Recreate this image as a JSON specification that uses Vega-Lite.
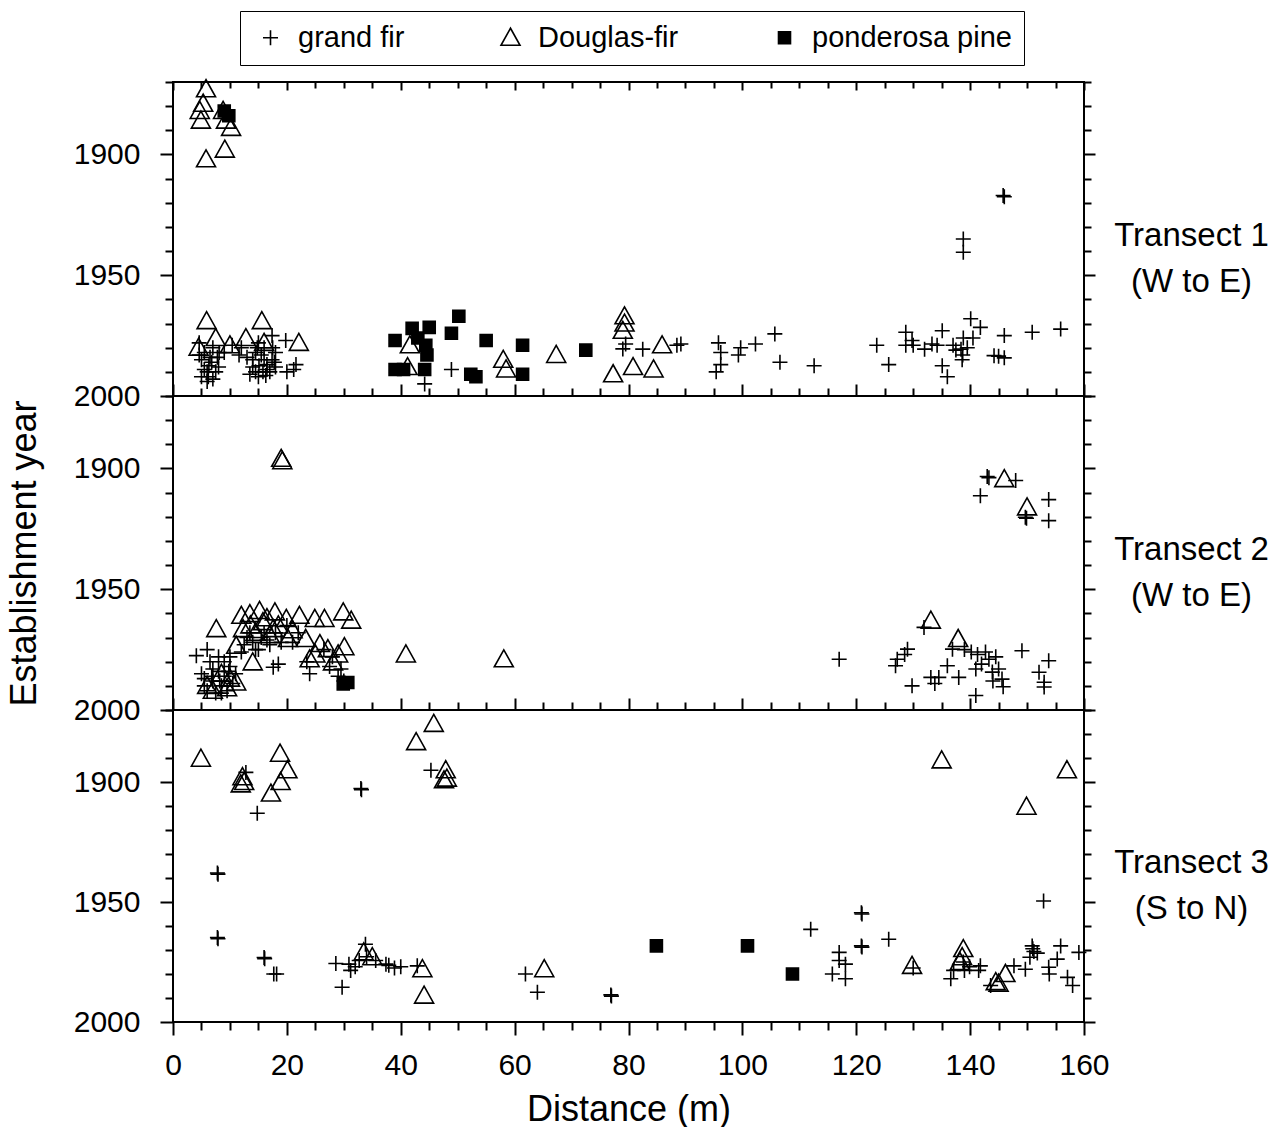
{
  "$schema": "https://vega.github.io/schema/vega-lite/v6.json",
  "padding": {"left": 5, "top": 10, "right": 5, "bottom": 5},
  "background": "white",
  "bounds": "flush",
  "spacing": 0,
  "config": {
    "view": {"stroke": "black", "strokeWidth": 2},
    "axis": {"domain": false, "grid": false, "tickColor": "black", "tickWidth": 2, "labelFont": "Liberation Sans", "labelFontSize": 30, "labelColor": "black", "titleFont": "Liberation Sans", "titleFontSize": 36, "titleFontWeight": "normal", "titleColor": "black", "labelOverlap": false, "labelFlush": false, "labelBound": false},
    "legend": {"labelFont": "Liberation Sans", "labelFontSize": 29, "labelColor": "black", "labelLimit": 400, "symbolStrokeColor": "black", "symbolStrokeWidth": 1.6, "symbolSize": 400}
  },
  "data": {"values": [
    {"t":1,"d":5.8,"y":1873,"s":"Douglas-fir"},{"t":1,"d":5.3,"y":1879,"s":"Douglas-fir"},{"t":1,"d":4.7,"y":1882,"s":"Douglas-fir"},{"t":1,"d":4.9,"y":1886,"s":"Douglas-fir"},{"t":1,"d":8.8,"y":1882,"s":"Douglas-fir"},{"t":1,"d":9.3,"y":1886,"s":"Douglas-fir"},{"t":1,"d":10.2,"y":1889,"s":"Douglas-fir"},{"t":1,"d":5.8,"y":1902,"s":"Douglas-fir"},{"t":1,"d":9.1,"y":1898,"s":"Douglas-fir"},
    {"t":1,"d":5.9,"y":1969,"s":"Douglas-fir"},{"t":1,"d":15.6,"y":1969,"s":"Douglas-fir"},{"t":1,"d":22.1,"y":1978,"s":"Douglas-fir"},{"t":1,"d":7.5,"y":1976,"s":"Douglas-fir"},{"t":1,"d":12.8,"y":1976,"s":"Douglas-fir"},{"t":1,"d":4.5,"y":1980,"s":"Douglas-fir"},{"t":1,"d":10,"y":1979,"s":"Douglas-fir"},{"t":1,"d":16,"y":1978,"s":"Douglas-fir"},{"t":1,"d":41.6,"y":1979,"s":"Douglas-fir"},{"t":1,"d":41.2,"y":1988,"s":"Douglas-fir"},{"t":1,"d":58.0,"y":1985,"s":"Douglas-fir"},{"t":1,"d":58.5,"y":1989,"s":"Douglas-fir"},{"t":1,"d":67.3,"y":1983,"s":"Douglas-fir"},{"t":1,"d":79.3,"y":1967,"s":"Douglas-fir"},{"t":1,"d":79.3,"y":1970,"s":"Douglas-fir"},{"t":1,"d":79.0,"y":1973,"s":"Douglas-fir"},{"t":1,"d":77.3,"y":1991,"s":"Douglas-fir"},{"t":1,"d":80.8,"y":1988,"s":"Douglas-fir"},{"t":1,"d":84.4,"y":1989,"s":"Douglas-fir"},{"t":1,"d":85.9,"y":1979,"s":"Douglas-fir"},
    {"t":1,"d":9,"y":1882,"s":"ponderosa pine"},{"t":1,"d":9.8,"y":1884,"s":"ponderosa pine"},{"t":1,"d":39.0,"y":1977,"s":"ponderosa pine"},{"t":1,"d":42.0,"y":1972,"s":"ponderosa pine"},{"t":1,"d":45.0,"y":1971.6,"s":"ponderosa pine"},{"t":1,"d":50.2,"y":1967,"s":"ponderosa pine"},{"t":1,"d":48.9,"y":1974,"s":"ponderosa pine"},{"t":1,"d":55.0,"y":1977,"s":"ponderosa pine"},{"t":1,"d":61.4,"y":1979,"s":"ponderosa pine"},{"t":1,"d":61.4,"y":1991,"s":"ponderosa pine"},{"t":1,"d":39.0,"y":1989,"s":"ponderosa pine"},{"t":1,"d":44.4,"y":1979,"s":"ponderosa pine"},{"t":1,"d":44.6,"y":1983,"s":"ponderosa pine"},{"t":1,"d":44.2,"y":1989,"s":"ponderosa pine"},{"t":1,"d":52.3,"y":1991,"s":"ponderosa pine"},{"t":1,"d":53.2,"y":1992,"s":"ponderosa pine"},{"t":1,"d":72.5,"y":1981,"s":"ponderosa pine"},{"t":1,"d":43,"y":1976,"s":"ponderosa pine"},{"t":1,"d":40.5,"y":1989,"s":"ponderosa pine"},
    {"t":1,"d":4.6,"y":1978,"s":"grand fir"},{"t":1,"d":4.6,"y":1983,"s":"grand fir"},{"t":1,"d":6.3,"y":1987.5,"s":"grand fir"},{"t":1,"d":6.0,"y":1994,"s":"grand fir"},{"t":1,"d":8.1,"y":1982,"s":"grand fir"},{"t":1,"d":10.4,"y":1979,"s":"grand fir"},{"t":1,"d":11.6,"y":1983,"s":"grand fir"},{"t":1,"d":14.5,"y":1982,"s":"grand fir"},{"t":1,"d":15.1,"y":1987.5,"s":"grand fir"},{"t":1,"d":16.3,"y":1991.5,"s":"grand fir"},{"t":1,"d":17.4,"y":1975,"s":"grand fir"},{"t":1,"d":17.4,"y":1985,"s":"grand fir"},{"t":1,"d":19.8,"y":1977,"s":"grand fir"},{"t":1,"d":21.2,"y":1989,"s":"grand fir"},{"t":1,"d":21.6,"y":1987,"s":"grand fir"},{"t":1,"d":5,"y":1985,"s":"grand fir"},{"t":1,"d":6,"y":1990,"s":"grand fir"},{"t":1,"d":7,"y":1980,"s":"grand fir"},{"t":1,"d":8,"y":1988,"s":"grand fir"},{"t":1,"d":9,"y":1982,"s":"grand fir"},{"t":1,"d":12,"y":1980,"s":"grand fir"},{"t":1,"d":13,"y":1984,"s":"grand fir"},{"t":1,"d":14,"y":1988,"s":"grand fir"},{"t":1,"d":15,"y":1978,"s":"grand fir"},{"t":1,"d":16,"y":1980,"s":"grand fir"},{"t":1,"d":16,"y":1985,"s":"grand fir"},{"t":1,"d":17,"y":1990,"s":"grand fir"},{"t":1,"d":18,"y":1982,"s":"grand fir"},{"t":1,"d":18,"y":1988,"s":"grand fir"},{"t":1,"d":15,"y":1992,"s":"grand fir"},{"t":1,"d":20,"y":1990,"s":"grand fir"},{"t":1,"d":7,"y":1993,"s":"grand fir"},{"t":1,"d":5.5,"y":1982,"s":"grand fir"},{"t":1,"d":14.5,"y":1990,"s":"grand fir"},{"t":1,"d":16.5,"y":1989,"s":"grand fir"},
    {"t":1,"d":5.5,"y":1989,"s":"grand fir"},{"t":1,"d":6.5,"y":1984,"s":"grand fir"},{"t":1,"d":7.5,"y":1990,"s":"grand fir"},{"t":1,"d":5,"y":1992,"s":"grand fir"},{"t":1,"d":14,"y":1985,"s":"grand fir"},{"t":1,"d":15.5,"y":1983,"s":"grand fir"},{"t":1,"d":16.5,"y":1987,"s":"grand fir"},{"t":1,"d":13.5,"y":1991,"s":"grand fir"},{"t":1,"d":17.5,"y":1980,"s":"grand fir"},
    {"t":1,"d":6.8,"y":1986,"s":"grand fir"},{"t":1,"d":7.8,"y":1984,"s":"grand fir"},{"t":1,"d":6.2,"y":1992,"s":"grand fir"},{"t":1,"d":15.8,"y":1990,"s":"grand fir"},{"t":1,"d":17.8,"y":1986,"s":"grand fir"},{"t":1,"d":14.8,"y":1980,"s":"grand fir"},
    {"t":1,"d":44.2,"y":1995,"s":"grand fir"},{"t":1,"d":48.9,"y":1989,"s":"grand fir"},{"t":1,"d":79.5,"y":1978.5,"s":"grand fir"},{"t":1,"d":79,"y":1980.5,"s":"grand fir"},{"t":1,"d":82.5,"y":1980.6,"s":"grand fir"},{"t":1,"d":88.5,"y":1979,"s":"grand fir"},{"t":1,"d":89.2,"y":1978.5,"s":"grand fir"},{"t":1,"d":95.8,"y":1978,"s":"grand fir"},{"t":1,"d":96.2,"y":1982,"s":"grand fir"},{"t":1,"d":95.4,"y":1990,"s":"grand fir"},{"t":1,"d":96.2,"y":1987,"s":"grand fir"},{"t":1,"d":99.7,"y":1980,"s":"grand fir"},{"t":1,"d":99.3,"y":1983,"s":"grand fir"},{"t":1,"d":102.3,"y":1978.5,"s":"grand fir"},{"t":1,"d":105.7,"y":1974.3,"s":"grand fir"},{"t":1,"d":106.6,"y":1986,"s":"grand fir"},{"t":1,"d":112.6,"y":1987.5,"s":"grand fir"},
    {"t":1,"d":123.6,"y":1979,"s":"grand fir"},{"t":1,"d":125.7,"y":1987,"s":"grand fir"},{"t":1,"d":128.7,"y":1973.6,"s":"grand fir"},{"t":1,"d":128.7,"y":1979,"s":"grand fir"},{"t":1,"d":130,"y":1979,"s":"grand fir"},{"t":1,"d":133.3,"y":1978.5,"s":"grand fir"},{"t":1,"d":135.1,"y":1973,"s":"grand fir"},{"t":1,"d":135.1,"y":1987.5,"s":"grand fir"},{"t":1,"d":136,"y":1992,"s":"grand fir"},{"t":1,"d":137,"y":1979,"s":"grand fir"},{"t":1,"d":137.5,"y":1981,"s":"grand fir"},{"t":1,"d":138.6,"y":1985,"s":"grand fir"},{"t":1,"d":138.8,"y":1976,"s":"grand fir"},{"t":1,"d":140.1,"y":1968,"s":"grand fir"},{"t":1,"d":141.8,"y":1971.6,"s":"grand fir"},{"t":1,"d":144.2,"y":1983.3,"s":"grand fir"},{"t":1,"d":146,"y":1975,"s":"grand fir"},{"t":1,"d":146,"y":1984.2,"s":"grand fir"},{"t":1,"d":150.9,"y":1973.6,"s":"grand fir"},{"t":1,"d":155.9,"y":1972.3,"s":"grand fir"},{"t":1,"d":145.8,"y":1917,"s":"grand fir"},{"t":1,"d":146,"y":1917.5,"s":"grand fir"},{"t":1,"d":138.8,"y":1935,"s":"grand fir"},{"t":1,"d":138.8,"y":1940.5,"s":"grand fir"},{"t":1,"d":138.4,"y":1980.6,"s":"grand fir"},{"t":1,"d":138.7,"y":1983,"s":"grand fir"},{"t":1,"d":134.2,"y":1979,"s":"grand fir"},{"t":1,"d":132,"y":1980.6,"s":"grand fir"},{"t":1,"d":129.8,"y":1977,"s":"grand fir"},{"t":1,"d":145,"y":1983.5,"s":"grand fir"},{"t":1,"d":140.5,"y":1976,"s":"grand fir"},{"t":1,"d":139.5,"y":1980,"s":"grand fir"},
    {"t":2,"d":19.0,"y":1896,"s":"Douglas-fir"},{"t":2,"d":19.2,"y":1897,"s":"Douglas-fir"},{"t":2,"d":7.6,"y":1966.5,"s":"Douglas-fir"},{"t":2,"d":12.0,"y":1961,"s":"Douglas-fir"},{"t":2,"d":13.5,"y":1960.3,"s":"Douglas-fir"},{"t":2,"d":15.2,"y":1959,"s":"Douglas-fir"},{"t":2,"d":17.9,"y":1959.6,"s":"Douglas-fir"},{"t":2,"d":19.9,"y":1962.3,"s":"Douglas-fir"},{"t":2,"d":22.2,"y":1961,"s":"Douglas-fir"},{"t":2,"d":24.9,"y":1962.3,"s":"Douglas-fir"},{"t":2,"d":26.6,"y":1962.3,"s":"Douglas-fir"},{"t":2,"d":29.9,"y":1959.6,"s":"Douglas-fir"},{"t":2,"d":31.3,"y":1963,"s":"Douglas-fir"},{"t":2,"d":12.3,"y":1966.5,"s":"Douglas-fir"},{"t":2,"d":13.6,"y":1965,"s":"Douglas-fir"},{"t":2,"d":15.8,"y":1963.6,"s":"Douglas-fir"},{"t":2,"d":17.6,"y":1966.5,"s":"Douglas-fir"},{"t":2,"d":20.2,"y":1970.6,"s":"Douglas-fir"},{"t":2,"d":23.3,"y":1970.6,"s":"Douglas-fir"},{"t":2,"d":25.8,"y":1972.7,"s":"Douglas-fir"},{"t":2,"d":27.2,"y":1974.8,"s":"Douglas-fir"},{"t":2,"d":30.1,"y":1974,"s":"Douglas-fir"},{"t":2,"d":28.1,"y":1980.3,"s":"Douglas-fir"},{"t":2,"d":11.1,"y":1973.4,"s":"Douglas-fir"},{"t":2,"d":14.0,"y":1980.3,"s":"Douglas-fir"},{"t":2,"d":24.0,"y":1979,"s":"Douglas-fir"},{"t":2,"d":11.1,"y":1988.6,"s":"Douglas-fir"},{"t":2,"d":8.5,"y":1985,"s":"Douglas-fir"},{"t":2,"d":16.5,"y":1962,"s":"Douglas-fir"},{"t":2,"d":18.5,"y":1965,"s":"Douglas-fir"},{"t":2,"d":40.9,"y":1977,"s":"Douglas-fir"},{"t":2,"d":58.1,"y":1979,"s":"Douglas-fir"},{"t":2,"d":146.0,"y":1904.4,"s":"Douglas-fir"},{"t":2,"d":150.0,"y":1916.1,"s":"Douglas-fir"},{"t":2,"d":133.1,"y":1963,"s":"Douglas-fir"},{"t":2,"d":137.9,"y":1970.6,"s":"Douglas-fir"},
    {"t":2,"d":6,"y":1990,"s":"Douglas-fir"},{"t":2,"d":9.5,"y":1991,"s":"Douglas-fir"},{"t":2,"d":14.5,"y":1968,"s":"Douglas-fir"},{"t":2,"d":21,"y":1967,"s":"Douglas-fir"},{"t":2,"d":25,"y":1977,"s":"Douglas-fir"},{"t":2,"d":29,"y":1977,"s":"Douglas-fir"},{"t":2,"d":7,"y":1992,"s":"Douglas-fir"},{"t":2,"d":10,"y":1987,"s":"Douglas-fir"},{"t":2,"d":17,"y":1969,"s":"Douglas-fir"},
    {"t":2,"d":29.9,"y":1989.2,"s":"ponderosa pine"},{"t":2,"d":30.7,"y":1988.6,"s":"ponderosa pine"},
    {"t":2,"d":4.1,"y":1977.5,"s":"grand fir"},{"t":2,"d":5,"y":1985,"s":"grand fir"},{"t":2,"d":5.5,"y":1990,"s":"grand fir"},{"t":2,"d":6,"y":1992,"s":"grand fir"},{"t":2,"d":6.5,"y":1980,"s":"grand fir"},{"t":2,"d":7,"y":1988,"s":"grand fir"},{"t":2,"d":7.5,"y":1993,"s":"grand fir"},{"t":2,"d":8,"y":1984,"s":"grand fir"},{"t":2,"d":8.5,"y":1990,"s":"grand fir"},{"t":2,"d":9,"y":1986,"s":"grand fir"},{"t":2,"d":9.5,"y":1992,"s":"grand fir"},{"t":2,"d":10,"y":1982,"s":"grand fir"},{"t":2,"d":10.5,"y":1989,"s":"grand fir"},{"t":2,"d":6,"y":1975,"s":"grand fir"},{"t":2,"d":8,"y":1978,"s":"grand fir"},{"t":2,"d":17.6,"y":1982.3,"s":"grand fir"},{"t":2,"d":18.5,"y":1981,"s":"grand fir"},{"t":2,"d":24.0,"y":1985,"s":"grand fir"},{"t":2,"d":23.5,"y":1980,"s":"grand fir"},{"t":2,"d":13,"y":1970,"s":"grand fir"},{"t":2,"d":15,"y":1975,"s":"grand fir"},{"t":2,"d":16,"y":1968,"s":"grand fir"},{"t":2,"d":14,"y":1972,"s":"grand fir"},{"t":2,"d":20,"y":1965,"s":"grand fir"},{"t":2,"d":21,"y":1972,"s":"grand fir"},{"t":2,"d":26.5,"y":1975,"s":"grand fir"},{"t":2,"d":28,"y":1978,"s":"grand fir"},{"t":2,"d":29,"y":1986,"s":"grand fir"},{"t":2,"d":30,"y":1988,"s":"grand fir"},{"t":2,"d":12,"y":1976,"s":"grand fir"},{"t":2,"d":10,"y":1978,"s":"grand fir"},
    {"t":2,"d":5.5,"y":1987,"s":"grand fir"},{"t":2,"d":7,"y":1983,"s":"grand fir"},{"t":2,"d":8.5,"y":1993,"s":"grand fir"},{"t":2,"d":9,"y":1980,"s":"grand fir"},{"t":2,"d":11,"y":1985,"s":"grand fir"},{"t":2,"d":12.5,"y":1973,"s":"grand fir"},{"t":2,"d":14.5,"y":1975,"s":"grand fir"},{"t":2,"d":16.5,"y":1971,"s":"grand fir"},{"t":2,"d":18,"y":1968,"s":"grand fir"},{"t":2,"d":19,"y":1972,"s":"grand fir"},{"t":2,"d":22,"y":1968,"s":"grand fir"},{"t":2,"d":27.5,"y":1982,"s":"grand fir"},{"t":2,"d":29.5,"y":1983,"s":"grand fir"},
    {"t":2,"d":6.8,"y":1986,"s":"grand fir"},{"t":2,"d":8.2,"y":1988,"s":"grand fir"},{"t":2,"d":9.8,"y":1984,"s":"grand fir"},{"t":2,"d":13.5,"y":1968,"s":"grand fir"},{"t":2,"d":15.5,"y":1970,"s":"grand fir"},{"t":2,"d":17,"y":1973,"s":"grand fir"},
    {"t":2,"d":117.0,"y":1979,"s":"grand fir"},{"t":2,"d":143.0,"y":1903.3,"s":"grand fir"},{"t":2,"d":143.3,"y":1903.8,"s":"grand fir"},{"t":2,"d":148.0,"y":1905,"s":"grand fir"},{"t":2,"d":141.8,"y":1911.3,"s":"grand fir"},{"t":2,"d":149.7,"y":1920.2,"s":"grand fir"},{"t":2,"d":149.9,"y":1920.6,"s":"grand fir"},{"t":2,"d":153.8,"y":1912.9,"s":"grand fir"},{"t":2,"d":153.8,"y":1921.6,"s":"grand fir"},{"t":2,"d":131.9,"y":1965.8,"s":"grand fir"},{"t":2,"d":129,"y":1974.8,"s":"grand fir"},{"t":2,"d":127.2,"y":1979,"s":"grand fir"},{"t":2,"d":126.9,"y":1981.7,"s":"grand fir"},{"t":2,"d":128.5,"y":1977,"s":"grand fir"},{"t":2,"d":129.8,"y":1990,"s":"grand fir"},{"t":2,"d":133.1,"y":1986.5,"s":"grand fir"},{"t":2,"d":134.5,"y":1986.5,"s":"grand fir"},{"t":2,"d":133.8,"y":1989,"s":"grand fir"},{"t":2,"d":136,"y":1981.7,"s":"grand fir"},{"t":2,"d":138,"y":1986.5,"s":"grand fir"},{"t":2,"d":136.9,"y":1974.8,"s":"grand fir"},{"t":2,"d":139,"y":1975,"s":"grand fir"},{"t":2,"d":140.2,"y":1976,"s":"grand fir"},{"t":2,"d":141.3,"y":1977,"s":"grand fir"},{"t":2,"d":141,"y":1983,"s":"grand fir"},{"t":2,"d":141,"y":1994,"s":"grand fir"},{"t":2,"d":142.7,"y":1976,"s":"grand fir"},{"t":2,"d":143.3,"y":1979,"s":"grand fir"},{"t":2,"d":143.9,"y":1984.3,"s":"grand fir"},{"t":2,"d":144,"y":1988,"s":"grand fir"},{"t":2,"d":145,"y":1983,"s":"grand fir"},{"t":2,"d":145.6,"y":1987.2,"s":"grand fir"},{"t":2,"d":145.8,"y":1990.4,"s":"grand fir"},{"t":2,"d":149.1,"y":1975.5,"s":"grand fir"},{"t":2,"d":152.1,"y":1984.4,"s":"grand fir"},{"t":2,"d":153.8,"y":1979.6,"s":"grand fir"},{"t":2,"d":153,"y":1988.5,"s":"grand fir"},{"t":2,"d":153,"y":1990.5,"s":"grand fir"},{"t":2,"d":144.5,"y":1978,"s":"grand fir"},{"t":2,"d":142,"y":1981,"s":"grand fir"},
    {"t":3,"d":4.9,"y":1890.3,"s":"Douglas-fir"},{"t":3,"d":18.8,"y":1888.2,"s":"Douglas-fir"},{"t":3,"d":20.1,"y":1895.1,"s":"Douglas-fir"},{"t":3,"d":18.9,"y":1900,"s":"Douglas-fir"},{"t":3,"d":17.2,"y":1904.8,"s":"Douglas-fir"},{"t":3,"d":12.2,"y":1898,"s":"Douglas-fir"},{"t":3,"d":11.9,"y":1901,"s":"Douglas-fir"},{"t":3,"d":12.5,"y":1900,"s":"Douglas-fir"},{"t":3,"d":33.5,"y":1971,"s":"Douglas-fir"},{"t":3,"d":35,"y":1973,"s":"Douglas-fir"},{"t":3,"d":43.8,"y":1978,"s":"Douglas-fir"},{"t":3,"d":44.1,"y":1989,"s":"Douglas-fir"},{"t":3,"d":45.8,"y":1875.8,"s":"Douglas-fir"},{"t":3,"d":42.7,"y":1883.4,"s":"Douglas-fir"},{"t":3,"d":47.9,"y":1895.1,"s":"Douglas-fir"},{"t":3,"d":47.6,"y":1899.3,"s":"Douglas-fir"},{"t":3,"d":48.1,"y":1898.6,"s":"Douglas-fir"},{"t":3,"d":65.2,"y":1978,"s":"Douglas-fir"},{"t":3,"d":129.8,"y":1976.6,"s":"Douglas-fir"},{"t":3,"d":135.0,"y":1891,"s":"Douglas-fir"},{"t":3,"d":149.9,"y":1910.3,"s":"Douglas-fir"},{"t":3,"d":157.0,"y":1895.1,"s":"Douglas-fir"},{"t":3,"d":138.8,"y":1969.6,"s":"Douglas-fir"},{"t":3,"d":138.6,"y":1973,"s":"Douglas-fir"},{"t":3,"d":138.2,"y":1975,"s":"Douglas-fir"},{"t":3,"d":144.5,"y":1983.4,"s":"Douglas-fir"},{"t":3,"d":145,"y":1984,"s":"Douglas-fir"},{"t":3,"d":146.2,"y":1980,"s":"Douglas-fir"},
    {"t":3,"d":84.9,"y":1968.3,"s":"ponderosa pine"},{"t":3,"d":100.9,"y":1968.3,"s":"ponderosa pine"},{"t":3,"d":108.8,"y":1980,"s":"ponderosa pine"},
    {"t":3,"d":12.8,"y":1896,"s":"grand fir"},{"t":3,"d":14.8,"y":1913,"s":"grand fir"},{"t":3,"d":33.0,"y":1902.7,"s":"grand fir"},{"t":3,"d":33.1,"y":1903.2,"s":"grand fir"},{"t":3,"d":7.8,"y":1937.9,"s":"grand fir"},{"t":3,"d":7.9,"y":1938.4,"s":"grand fir"},{"t":3,"d":7.8,"y":1964.8,"s":"grand fir"},{"t":3,"d":7.9,"y":1965.3,"s":"grand fir"},{"t":3,"d":16.0,"y":1973.1,"s":"grand fir"},{"t":3,"d":16.1,"y":1973.6,"s":"grand fir"},{"t":3,"d":17.7,"y":1980,"s":"grand fir"},{"t":3,"d":18.2,"y":1980,"s":"grand fir"},{"t":3,"d":28.6,"y":1975.6,"s":"grand fir"},{"t":3,"d":29.7,"y":1985.5,"s":"grand fir"},{"t":3,"d":30.9,"y":1975.9,"s":"grand fir"},{"t":3,"d":32.7,"y":1974.4,"s":"grand fir"},{"t":3,"d":33.8,"y":1967.6,"s":"grand fir"},{"t":3,"d":34.0,"y":1972.8,"s":"grand fir"},{"t":3,"d":35.6,"y":1974.4,"s":"grand fir"},{"t":3,"d":37.4,"y":1975.9,"s":"grand fir"},{"t":3,"d":38.9,"y":1977.5,"s":"grand fir"},{"t":3,"d":31.2,"y":1978.5,"s":"grand fir"},{"t":3,"d":32,"y":1977,"s":"grand fir"},{"t":3,"d":37.9,"y":1976.4,"s":"grand fir"},{"t":3,"d":40,"y":1977,"s":"grand fir"},{"t":3,"d":42.9,"y":1976.6,"s":"grand fir"},{"t":3,"d":45.3,"y":1895.1,"s":"grand fir"},{"t":3,"d":61.9,"y":1980,"s":"grand fir"},{"t":3,"d":64,"y":1987.6,"s":"grand fir"},{"t":3,"d":76.9,"y":1988.7,"s":"grand fir"},{"t":3,"d":77,"y":1989.2,"s":"grand fir"},{"t":3,"d":112.0,"y":1961.4,"s":"grand fir"},{"t":3,"d":117.0,"y":1971,"s":"grand fir"},{"t":3,"d":117,"y":1974.4,"s":"grand fir"},{"t":3,"d":115.8,"y":1980,"s":"grand fir"},{"t":3,"d":118.1,"y":1975.9,"s":"grand fir"},{"t":3,"d":118.1,"y":1982,"s":"grand fir"},{"t":3,"d":120.9,"y":1954.5,"s":"grand fir"},{"t":3,"d":121,"y":1955,"s":"grand fir"},{"t":3,"d":120.9,"y":1968.3,"s":"grand fir"},{"t":3,"d":121,"y":1968.8,"s":"grand fir"},{"t":3,"d":125.7,"y":1965.5,"s":"grand fir"},{"t":3,"d":130,"y":1977.5,"s":"grand fir"},{"t":3,"d":136.6,"y":1982,"s":"grand fir"},{"t":3,"d":137.1,"y":1978.5,"s":"grand fir"},{"t":3,"d":138.8,"y":1975,"s":"grand fir"},{"t":3,"d":139,"y":1978.5,"s":"grand fir"},{"t":3,"d":139.9,"y":1977,"s":"grand fir"},{"t":3,"d":141.8,"y":1976.6,"s":"grand fir"},{"t":3,"d":141.5,"y":1978.5,"s":"grand fir"},{"t":3,"d":143.6,"y":1984.8,"s":"grand fir"},{"t":3,"d":147.7,"y":1976.6,"s":"grand fir"},{"t":3,"d":149.7,"y":1978,"s":"grand fir"},{"t":3,"d":150.9,"y":1968.3,"s":"grand fir"},{"t":3,"d":151.2,"y":1970.6,"s":"grand fir"},{"t":3,"d":151.8,"y":1971.3,"s":"grand fir"},{"t":3,"d":150.5,"y":1973,"s":"grand fir"},{"t":3,"d":151,"y":1969.5,"s":"grand fir"},{"t":3,"d":155.9,"y":1968.3,"s":"grand fir"},{"t":3,"d":155.3,"y":1973.8,"s":"grand fir"},{"t":3,"d":153.8,"y":1977.2,"s":"grand fir"},{"t":3,"d":153.9,"y":1980,"s":"grand fir"},{"t":3,"d":157.1,"y":1981.4,"s":"grand fir"},{"t":3,"d":158,"y":1984.8,"s":"grand fir"},{"t":3,"d":159.1,"y":1971,"s":"grand fir"},{"t":3,"d":152.9,"y":1949.6,"s":"grand fir"}
  ]},
  "vconcat": [
    {
      "width": 911, "height": 314,
      "transform": [{"filter": "datum.t === 1"}],
      "layer": [
        {
          "mark": {"type": "point", "size": 400, "filled": false, "color": "black", "stroke": "black", "strokeWidth": 1.6, "opacity": 1},
          "encoding": {
            "x": {"field": "d", "type": "quantitative", "scale": {"domain": [0, 160], "nice": false, "zero": false},
                  "axis": {"orient": "bottom", "values": [0,5,10,15,20,25,30,35,40,45,50,55,60,65,70,75,80,85,90,95,100,105,110,115,120,125,130,135,140,145,150,155,160], "labels": false, "title": null, "tickSize": {"condition": {"test": "datum.value % 20 === 0", "value": -12}, "value": -8}}},
            "y": {"field": "y", "type": "quantitative", "scale": {"domain": [1870, 2000], "nice": false, "zero": false, "reverse": true},
                  "axis": {"orient": "left", "values": [1870,1880,1890,1900,1910,1920,1930,1940,1950,1960,1970,1980,1990,2000], "format": "d", "labelExpr": "datum.value % 50 === 0 ? datum.label : ''", "title": null, "labelPadding": 20, "tickSize": {"condition": {"test": "datum.value % 50 === 0", "value": 13}, "value": 8}}},
            "shape": {"field": "s", "type": "nominal", "scale": {"domain": ["grand fir", "Douglas-fir", "ponderosa pine"], "range": ["M-0.75,0L0.75,0M0,-0.75L0,0.75", "M0,-0.95L0.95,0.75L-0.95,0.75Z", "M-0.6,-0.6L0.6,-0.6L0.6,0.6L-0.6,0.6ZM-0.6,-0.45L0.6,-0.45M-0.6,-0.3L0.6,-0.3M-0.6,-0.15L0.6,-0.15M-0.6,0L0.6,0M-0.6,0.15L0.6,0.15M-0.6,0.3L0.6,0.3M-0.6,0.45L0.6,0.45"]},
                      "legend": {"orient": "none", "legendX": 67, "legendY": -71, "direction": "horizontal", "title": null, "padding": 12, "strokeColor": "black", "fillColor": "white", "columnPadding": 87, "symbolOffset": 4, "labelOffset": 13, "labelLimit": 400, "symbolStrokeColor": "black", "symbolStrokeWidth": 1.6, "symbolFillColor": "transparent"}}
          }
        },
        {
          "mark": {"type": "point", "opacity": 0},
          "encoding": {
            "x": {"field": "d", "type": "quantitative",
                  "axis": {"orient": "top", "values": [0,5,10,15,20,25,30,35,40,45,50,55,60,65,70,75,80,85,90,95,100,105,110,115,120,125,130,135,140,145,150,155,160], "labels": false, "title": null, "tickSize": {"condition": {"test": "datum.value % 20 === 0", "value": -8}, "value": -6}}},
            "y": {"field": "y", "type": "quantitative",
                  "axis": {"orient": "right", "values": [1870,1880,1890,1900,1910,1920,1930,1940,1950,1960,1970,1980,1990,2000], "labels": false, "title": ["Transect 1", "(W to E)"], "titleAngle": 0, "titleAlign": "center", "titleBaseline": "alphabetic", "titleFontSize": 33, "titleLineHeight": 46, "titlePadding": 49, "titleY": 163, "tickSize": {"condition": {"test": "datum.value % 50 === 0", "value": 11}, "value": 7}}}
          }
        }
      ],
      "resolve": {"axis": {"x": "independent", "y": "independent"}}
    },
    {
      "width": 911, "height": 314,
      "transform": [{"filter": "datum.t === 2"}],
      "layer": [
        {
          "mark": {"type": "point", "size": 400, "filled": false, "color": "black", "stroke": "black", "strokeWidth": 1.6, "opacity": 1},
          "encoding": {
            "x": {"field": "d", "type": "quantitative", "scale": {"domain": [0, 160], "nice": false, "zero": false},
                  "axis": {"orient": "bottom", "values": [0,5,10,15,20,25,30,35,40,45,50,55,60,65,70,75,80,85,90,95,100,105,110,115,120,125,130,135,140,145,150,155,160], "labels": false, "title": null, "tickSize": {"condition": {"test": "datum.value % 20 === 0", "value": -12}, "value": -8}}},
            "y": {"field": "y", "type": "quantitative", "scale": {"domain": [1870, 2000], "nice": false, "zero": false, "reverse": true},
                  "axis": {"orient": "left", "values": [1870,1880,1890,1900,1910,1920,1930,1940,1950,1960,1970,1980,1990,2000], "format": "d", "labelExpr": "datum.value % 50 === 0 ? datum.label : ''", "title": "Establishment year", "titlePadding": 30, "labelPadding": 20, "tickSize": {"condition": {"test": "datum.value % 50 === 0", "value": 13}, "value": 8}}},
            "shape": {"field": "s", "type": "nominal"}
          }
        },
        {
          "mark": {"type": "point", "opacity": 0},
          "encoding": {
            "x": {"field": "d", "type": "quantitative", "axis": null},
            "y": {"field": "y", "type": "quantitative",
                  "axis": {"orient": "right", "values": [1870,1880,1890,1900,1910,1920,1930,1940,1950,1960,1970,1980,1990,2000], "labels": false, "title": ["Transect 2", "(W to E)"], "titleAngle": 0, "titleAlign": "center", "titleBaseline": "alphabetic", "titleFontSize": 33, "titleLineHeight": 46, "titlePadding": 49, "titleY": 163, "tickSize": {"condition": {"test": "datum.value % 50 === 0", "value": 11}, "value": 7}}}
          }
        }
      ],
      "resolve": {"axis": {"x": "independent", "y": "independent"}}
    },
    {
      "width": 911, "height": 312,
      "transform": [{"filter": "datum.t === 3"}],
      "layer": [
        {
          "mark": {"type": "point", "size": 400, "filled": false, "color": "black", "stroke": "black", "strokeWidth": 1.6, "opacity": 1},
          "encoding": {
            "x": {"field": "d", "type": "quantitative", "scale": {"domain": [0, 160], "nice": false, "zero": false},
                  "axis": {"orient": "bottom", "values": [0,5,10,15,20,25,30,35,40,45,50,55,60,65,70,75,80,85,90,95,100,105,110,115,120,125,130,135,140,145,150,155,160], "format": "d", "labelExpr": "datum.value % 20 === 0 ? datum.label : ''", "title": "Distance (m)", "titlePadding": 12, "labelPadding": 15, "tickSize": {"condition": {"test": "datum.value % 20 === 0", "value": 13}, "value": 8}}},
            "y": {"field": "y", "type": "quantitative", "scale": {"domain": [1870, 2000], "nice": false, "zero": false, "reverse": true},
                  "axis": {"orient": "left", "values": [1870,1880,1890,1900,1910,1920,1930,1940,1950,1960,1970,1980,1990,2000], "format": "d", "labelExpr": "datum.value % 50 === 0 ? datum.label : ''", "title": null, "labelPadding": 20, "tickSize": {"condition": {"test": "datum.value % 50 === 0", "value": 13}, "value": 8}}},
            "shape": {"field": "s", "type": "nominal"}
          }
        },
        {
          "mark": {"type": "point", "opacity": 0},
          "encoding": {
            "x": {"field": "d", "type": "quantitative", "axis": null},
            "y": {"field": "y", "type": "quantitative",
                  "axis": {"orient": "right", "values": [1870,1880,1890,1900,1910,1920,1930,1940,1950,1960,1970,1980,1990,2000], "labels": false, "title": ["Transect 3", "(S to N)"], "titleAngle": 0, "titleAlign": "center", "titleBaseline": "alphabetic", "titleFontSize": 33, "titleLineHeight": 46, "titlePadding": 49, "titleY": 162, "tickSize": {"condition": {"test": "datum.value % 50 === 0", "value": 11}, "value": 7}}}
          }
        }
      ],
      "resolve": {"axis": {"x": "independent", "y": "independent"}}
    }
  ]
}
